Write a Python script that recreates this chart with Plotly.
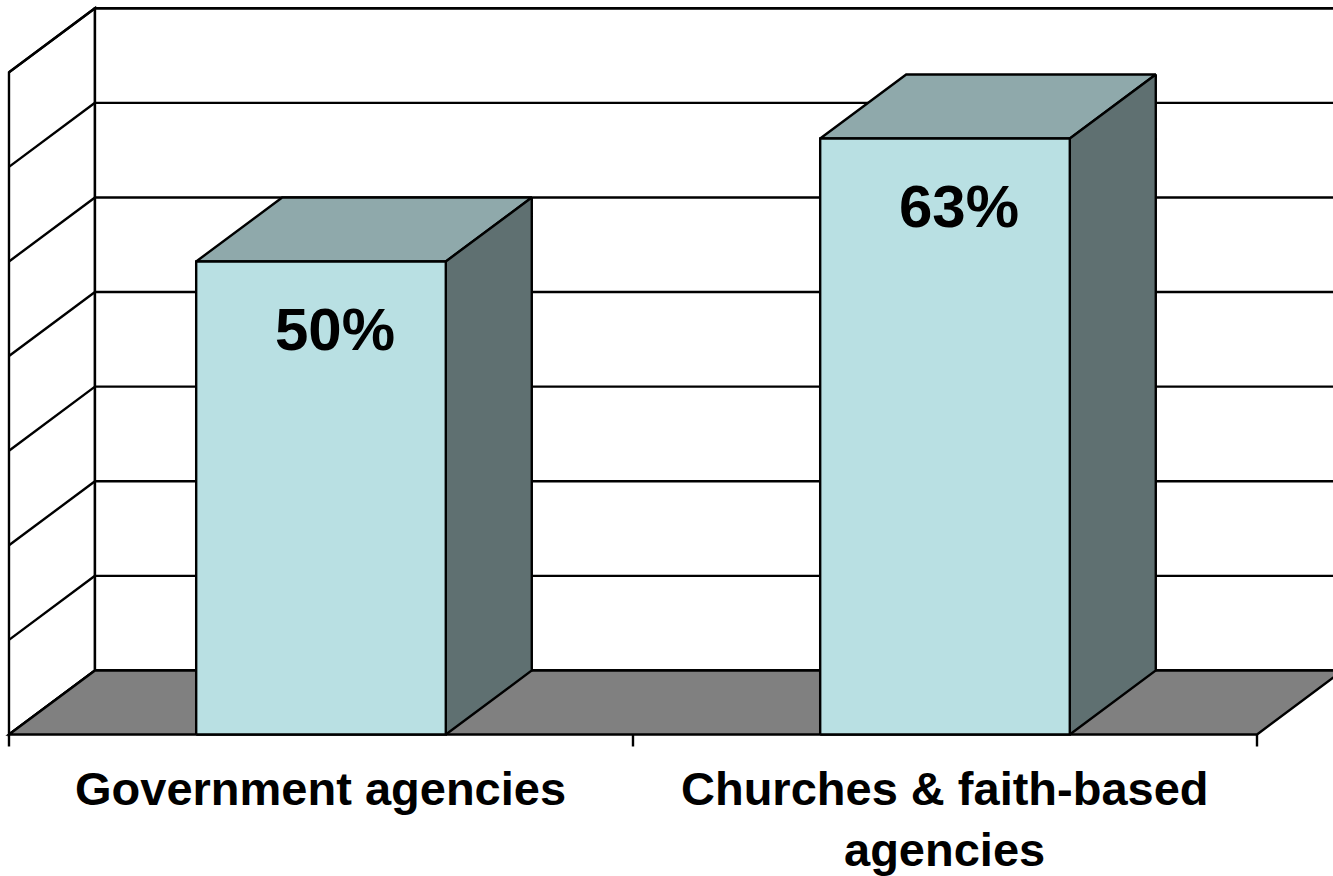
import plotly.graph_objects as go

# Survey shares by type of agency
categories = ["Government agencies", "Churches &amp; faith-based<br>agencies"]
values = [50, 63]
value_labels = ["50%", "63%"]
grid_levels = [0, 10, 20, 30, 40, 50, 60, 70]

# 3-D box geometry (category units on x, percent on y)
BAR_HALF = 0.2          # half width of a column's front face
DX = 0.1378             # depth offset along x
DY = 6.77               # depth offset along y
X_LO, X_HI = -0.5, len(categories) - 0.5
Y_TOP = grid_levels[-1]

FRONT = "#B9E0E3"
TOP = "#8FA9AB"
SIDE = "#5F7071"
FLOOR = "#808080"
LINE = "black"
LW = 2.4

fig = go.Figure()
shapes = []


def path(points):
    return "M " + " L ".join(f"{x},{y}" for x, y in points) + " Z"


# left side wall and back wall
shapes.append(dict(type="path", layer="below",
                   path=path([(X_LO, 0), (X_LO + DX, DY), (X_LO + DX, Y_TOP + DY), (X_LO, Y_TOP)]),
                   fillcolor="white", line=dict(color=LINE, width=LW)))
shapes.append(dict(type="path", layer="below",
                   path=path([(X_LO + DX, DY), (X_HI + DX, DY), (X_HI + DX, Y_TOP + DY), (X_LO + DX, Y_TOP + DY)]),
                   fillcolor="white", line=dict(color=LINE, width=LW)))

# gridlines on the back wall and the side wall
for g in grid_levels:
    shapes.append(dict(type="line", layer="below", x0=X_LO + DX, y0=g + DY, x1=X_HI + DX, y1=g + DY,
                       line=dict(color=LINE, width=LW)))
    shapes.append(dict(type="line", layer="below", x0=X_LO, y0=g, x1=X_LO + DX, y1=g + DY,
                       line=dict(color=LINE, width=LW)))

# floor
shapes.append(dict(type="path", layer="below",
                   path=path([(X_LO, 0), (X_HI, 0), (X_HI + DX, DY), (X_LO + DX, DY)]),
                   fillcolor=FLOOR, line=dict(color=LINE, width=LW)))

# category ticks along the front edge
for k in range(len(categories) + 1):
    xt = X_LO + k
    shapes.append(dict(type="line", layer="below", x0=xt, y0=0, x1=xt, y1=-1.27,
                       line=dict(color=LINE, width=LW)))


def face(xs, ys, color):
    fig.add_trace(go.Scatter(x=xs, y=ys, mode="lines", fill="toself", fillcolor=color,
                             line=dict(color=LINE, width=LW), hoverinfo="skip", showlegend=False))


for i, v in enumerate(values):
    xl, xr = i - BAR_HALF, i + BAR_HALF
    # top face
    face([xl, xr, xr + DX, xl + DX, xl], [v, v, v + DY, v + DY, v], TOP)
    # right side face
    face([xr, xr + DX, xr + DX, xr, xr], [0, DY, v + DY, v, 0], SIDE)
    # front face
    face([xl, xr, xr, xl, xl], [0, 0, v, v, 0], FRONT)

annotations = []
for i, (v, lab) in enumerate(zip(values, value_labels)):
    annotations.append(dict(x=i + 0.022, y=v - 7.2, text=f"<b>{lab}</b>", showarrow=False,
                            xanchor="center", yanchor="middle",
                            font=dict(family="Arial, Liberation Sans", size=60, color="black")))

# category names, one annotation per text line
LINE_GAP = 6.4   # baseline-to-baseline distance in y units
for i, cat in enumerate(categories):
    for j, part in enumerate(cat.split("<br>")):
        annotations.append(dict(x=i, y=-2.75 - j * LINE_GAP, text=f"<b>{part}</b>", showarrow=False,
                                xanchor="center", yanchor="top", align="center",
                                font=dict(family="Arial, Liberation Sans", size=47, color="black")))

fig.update_layout(
    width=1333, height=876,
    margin=dict(l=0, r=0, t=0, b=0),
    paper_bgcolor="white", plot_bgcolor="white",
    xaxis=dict(range=[-0.5144, 1.6218], visible=False, fixedrange=True),
    yaxis=dict(range=[-14.96, 77.64], visible=False, fixedrange=True),
    shapes=shapes, annotations=annotations, showlegend=False,
)

fig.write_html("out.html")
